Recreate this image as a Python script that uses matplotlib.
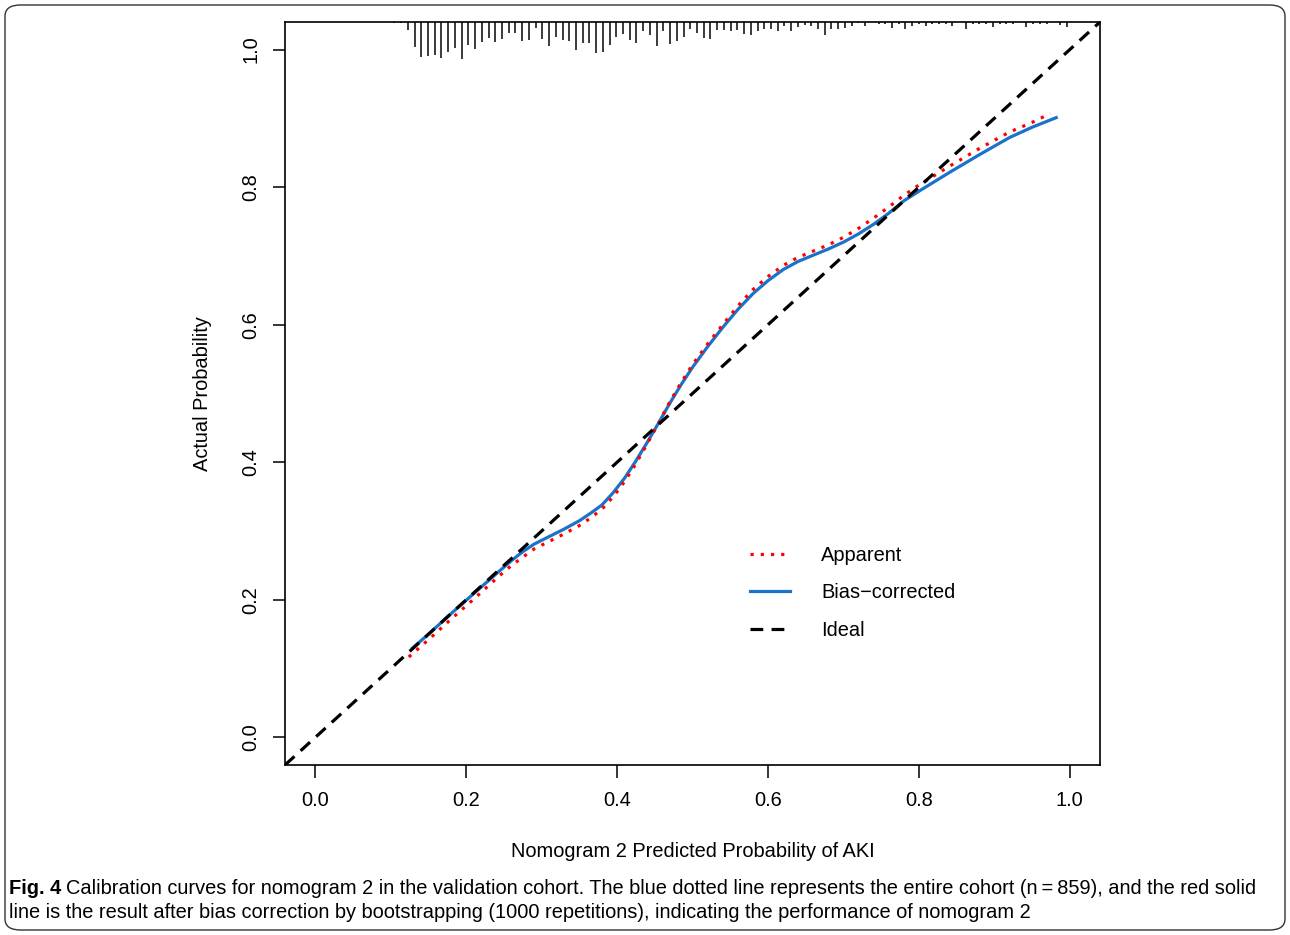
import numpy as np
import matplotlib
matplotlib.use('Agg')
from matplotlib import pyplot as plt
from matplotlib.patches import FancyBboxPatch

# calibration curves
apparent_x = [0.124, 0.15, 0.18, 0.21, 0.24, 0.26, 0.275, 0.29, 0.31, 0.33, 0.35, 0.365, 0.38, 0.395,
              0.41, 0.425, 0.44, 0.455, 0.47, 0.485, 0.5, 0.52, 0.54, 0.56, 0.58, 0.6, 0.62, 0.64,
              0.66, 0.68, 0.7, 0.72, 0.74, 0.76, 0.78, 0.8, 0.84, 0.88, 0.92, 0.95, 0.974]
apparent_y = [0.117, 0.142, 0.172, 0.201, 0.231, 0.250, 0.262, 0.274, 0.285, 0.296, 0.308, 0.319, 0.332, 0.350,
              0.372, 0.398, 0.427, 0.457, 0.488, 0.516, 0.542, 0.572, 0.600, 0.627, 0.651, 0.670, 0.686, 0.698,
              0.707, 0.716, 0.727, 0.740, 0.755, 0.771, 0.788, 0.803, 0.830, 0.856, 0.880, 0.894, 0.907]

corrected_x = [0.129, 0.15, 0.18, 0.21, 0.24, 0.26, 0.275, 0.29, 0.31, 0.33, 0.35, 0.365, 0.38, 0.395,
               0.41, 0.425, 0.44, 0.455, 0.47, 0.485, 0.5, 0.52, 0.54, 0.56, 0.58, 0.6, 0.62, 0.64,
               0.66, 0.68, 0.7, 0.72, 0.74, 0.76, 0.78, 0.8, 0.84, 0.88, 0.92, 0.95, 0.982]
corrected_y = [0.130, 0.150, 0.180, 0.209, 0.238, 0.257, 0.270, 0.281, 0.292, 0.303, 0.315, 0.326, 0.338, 0.356,
               0.377, 0.402, 0.429, 0.457, 0.486, 0.513, 0.538, 0.568, 0.596, 0.622, 0.645, 0.664, 0.680, 0.692,
               0.701, 0.710, 0.720, 0.732, 0.746, 0.762, 0.780, 0.794, 0.821, 0.847, 0.872, 0.887, 0.901]

# histogram spikes of predicted probabilities (relative heights)
rug_lo, rug_hi = 0.105, 0.996
rug_heights = [1.5, 1.5, 7.7, 25, 35, 33.7, 32.7, 36, 30, 26, 37.7, 23.3, 27, 20, 16, 20, 16.7,
               11, 11, 19, 17.7, 6, 16.7, 24, 15, 17.7, 18.7, 27.7, 21, 21, 31, 30, 22.7, 15,
               12, 17.7, 21, 9.3, 13.3, 24.3, 9.3, 22, 19.3, 15.3, 6.7, 11, 16, 16.7, 8.3, 7.7,
               8.7, 8.3, 11.7, 13.3, 9.3, 6.7, 6.7, 9.3, 4.3, 9.3, 5.3, 3.3, 4.3, 6.7, 13.3, 6.7,
               6.7, 6, 4, 1, 4.3, 0, 2, 2, 6, 2, 6.7, 4.3, 2, 4.3, 2, 2, 2, 4.3, 0, 6.7,
               2, 2, 2, 5, 2, 2, 2, 0, 5, 2, 2, 2, 0, 3.3, 5]

ticks = [0.0, 0.2, 0.4, 0.6, 0.8, 1.0]
tick_labels = ['0.0', '0.2', '0.4', '0.6', '0.8', '1.0']
legend_labels = ['Apparent', 'Bias\u2212corrected', 'Ideal']

plt.rcParams['font.family'] = ['Liberation Sans', 'DejaVu Sans']
fs = 14.4

fig = plt.figure(figsize=(12.9, 9.35), dpi=100)
ax = fig.add_axes([285 / 1290, 1 - 765 / 935, 815 / 1290, 743 / 935])
lo, hi = -0.04, 1.04
ax.set_xlim(lo, hi)
ax.set_ylim(lo, hi)

# spikes hanging from the top axis
rug_x = np.linspace(rug_lo, rug_hi, len(rug_heights))
h = np.array(rug_heights) / max(rug_heights) * 0.0545
ax.vlines(rug_x, hi - h, hi, color='#2b2b2b', lw=1.3, zorder=2)

ax.plot(apparent_x, apparent_y, color='#ff0000', lw=2.3, linestyle=(0, (1, 2.2)),
        label=legend_labels[0], zorder=4)
ax.plot(corrected_x, corrected_y, color='#1a73c8', lw=2.3, label=legend_labels[1], zorder=3)
ax.plot([lo, hi], [lo, hi], color='black', lw=2.3, linestyle=(0, (4, 2.6)),
        label=legend_labels[2], zorder=5)

ax.set_xticks(ticks)
ax.set_xticklabels(tick_labels)
ax.set_yticks(ticks)
ax.set_yticklabels(tick_labels, rotation=90, va='center')
ax.tick_params(axis='both', direction='out', length=9, width=1.1, labelsize=fs, pad=10)
ax.tick_params(axis='y', pad=9)
for s in ax.spines.values():
    s.set_linewidth(1.2)

ax.set_xlabel('Nomogram 2 Predicted Probability of AKI', fontsize=fs, labelpad=23)
ax.set_ylabel('Actual Probability', fontsize=fs, labelpad=21)

ax.legend(loc='upper left', bbox_to_anchor=(0.571, 0.295), frameon=False, fontsize=fs,
          handlelength=2.0, handletextpad=1.55, labelspacing=0.92, borderpad=0, borderaxespad=0)

# caption box
fig.patches.append(FancyBboxPatch((5 / 1290, 5 / 935), 1280 / 1290, 925 / 935,
                                  boxstyle='round,pad=0,rounding_size=0.012',
                                  transform=fig.transFigure, fill=False,
                                  ec='#333333', lw=1.0))
cap_fs = 14.4
bold = fig.text(9 / 1290, 1 - 888 / 935, 'Fig. 4', fontsize=cap_fs, fontweight='bold', va='center')
fig.canvas.draw()
bb = bold.get_window_extent()
fig.text((bb.x1 + 5) / 1290, 1 - 888 / 935,
         'Calibration curves for nomogram 2 in the validation cohort. The blue dotted line represents '
         'the entire cohort (n\u2009=\u2009859), and the red solid',
         fontsize=cap_fs, va='center')
fig.text(9 / 1290, 1 - 912 / 935,
         'line is the result after bias correction by bootstrapping (1000 repetitions), indicating '
         'the performance of nomogram 2',
         fontsize=cap_fs, va='center')

fig.savefig('out.png', dpi=100)
